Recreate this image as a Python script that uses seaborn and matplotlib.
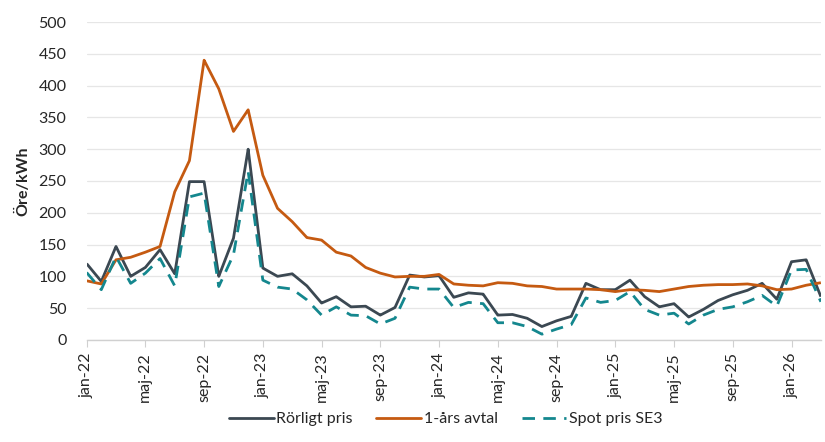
import matplotlib
matplotlib.use('Agg')
import seaborn as sns
import pandas as pd
import numpy as np
import matplotlib.pyplot as plt

# monthly prices, jan-22 .. mar-26 (öre/kWh)
months = pd.date_range("2022-01-01", periods=51, freq="MS")
month_names = ["jan", "feb", "mar", "apr", "maj", "jun",
               "jul", "aug", "sep", "okt", "nov", "dec"]

rorligt = [120, 92, 147, 100, 114, 142, 104, 249, 249, 100, 160, 300,
           113, 100, 104, 85, 58, 68, 52, 53, 39, 51, 102, 99,
           101, 67, 74, 72, 39, 40, 34, 21, 30, 37, 89, 79,
           79, 94, 68, 52, 57, 36, 48, 62, 71, 78, 89, 64,
           123, 126, 68]

ettars = [93, 88, 126, 130, 138, 147, 233, 282, 440, 395, 328, 362,
          259, 207, 186, 161, 157, 138, 132, 114, 105, 99, 100, 100,
          103, 88, 86, 85, 90, 89, 85, 84, 80, 80, 80, 79,
          76, 79, 78, 76, 80, 84, 86, 87, 87, 88, 85, 79,
          80, 86, 90]

spot = [106, 79, 131, 89, 105, 128, 85, 225, 231, 84, 134, 265,
        94, 83, 80, 63, 39, 52, 39, 38, 25, 34, 83, 80,
        80, 51, 59, 57, 27, 27, 21, 9, 17, 24, 66, 59,
        62, 76, 48, 39, 42, 25, 39, 48, 52, 60, 70, 53,
        110, 111, 60]

series_names = ["Rörligt pris", "1-års avtal", "Spot pris SE3"]
colors = ["#3b4852", "#c55a11", "#14878e"]

df = pd.DataFrame({"idx": np.arange(len(months)),
                   series_names[0]: rorligt,
                   series_names[1]: ettars,
                   series_names[2]: spot})
long_df = df.melt(id_vars="idx", var_name="serie", value_name="pris")

sns.set_style("white")
plt.rcParams['font.family'] = ['Lato', 'DejaVu Sans']

fig = plt.figure(figsize=(8.25, 4.42), dpi=100)
ax = fig.add_axes([0.105, 0.231, 0.89, 0.719])

sns.lineplot(data=long_df, x="idx", y="pris", hue="serie", style="serie",
             hue_order=series_names, style_order=series_names,
             palette=colors, dashes=[(1, 0), (1, 0), (4.5, 3)],
             linewidth=2.0, ax=ax, legend=False)

ax.set_xlim(0, len(months) - 1)
ax.set_ylim(0, 500)
ax.set_yticks(range(0, 501, 50))
ax.yaxis.grid(True, color="#e6e6e6", linewidth=0.9)
ax.set_axisbelow(True)

tick_pos = list(range(0, len(months), 4))
ax.set_xticks(tick_pos)
ax.set_xticklabels(["%s-%s" % (month_names[months[i].month - 1], str(months[i].year)[2:])
                    for i in tick_pos], rotation=90)
ax.tick_params(axis='x', which='both', bottom=True, length=5, color="#d0d0d0",
               labelsize=11.5, labelcolor="#262626", pad=4)
ax.tick_params(axis='y', left=False, labelsize=11.5, labelcolor="#262626", pad=11)

for s in ["top", "right", "left"]:
    ax.spines[s].set_visible(False)
ax.spines["bottom"].set_color("#d0d0d0")
ax.spines["bottom"].set_linewidth(1.0)

ax.set_xlabel("")
ax.set_ylabel("Öre/kWh", fontsize=11.5, fontweight="bold", color="#262626", labelpad=6)

handles = [plt.Line2D([], [], color=colors[0], linewidth=2.0),
           plt.Line2D([], [], color=colors[1], linewidth=2.0),
           plt.Line2D([], [], color=colors[2], linewidth=2.0, linestyle=(0, (4.5, 3)))]
fig.legend(handles, series_names, loc="center", bbox_to_anchor=(0.54, 0.052),
           ncol=3, frameon=False, fontsize=11.5, handlelength=2.8,
           handletextpad=0.15, columnspacing=1.5)

fig.savefig("out.png", dpi=100)
